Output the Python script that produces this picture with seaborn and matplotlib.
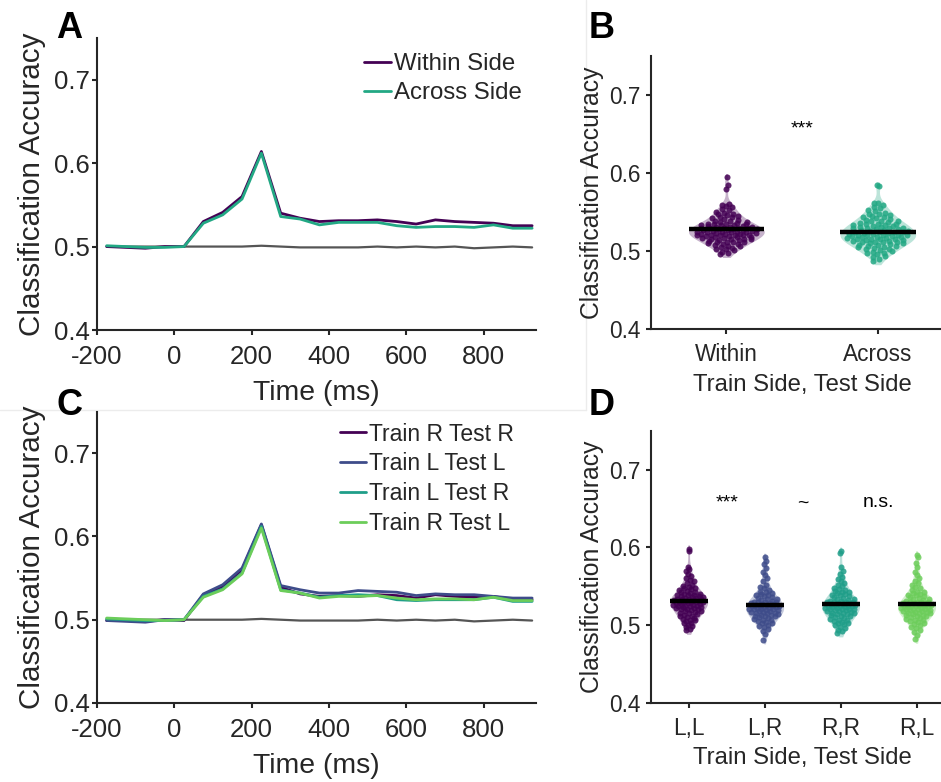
import numpy as np
import pandas as pd
import matplotlib
matplotlib.use("Agg")
import matplotlib.pyplot as plt
import seaborn as sns
from matplotlib.lines import Line2D

# ---------------- data ----------------
times = [-175, -125, -75, -25, 25, 75, 125, 175, 225, 275, 325, 375,
         425, 475, 525, 575, 625, 675, 725, 775, 825, 875, 925]

chance_a = [0.500, 0.500, 0.500, 0.500, 0.500, 0.500, 0.500, 0.500, 0.501, 0.500, 0.499, 0.499,
            0.499, 0.499, 0.500, 0.499, 0.500, 0.499, 0.500, 0.498, 0.499, 0.500, 0.499]
within_side = [0.500, 0.499, 0.498, 0.500, 0.500, 0.530, 0.541, 0.560, 0.614, 0.540, 0.534, 0.530,
               0.531, 0.531, 0.532, 0.530, 0.527, 0.532, 0.530, 0.529, 0.528, 0.525, 0.525]
across_side = [0.501, 0.500, 0.499, 0.499, 0.500, 0.528, 0.538, 0.557, 0.612, 0.536, 0.533, 0.526,
               0.529, 0.529, 0.529, 0.525, 0.523, 0.524, 0.524, 0.523, 0.526, 0.522, 0.522]

chance_c = [0.500, 0.500, 0.500, 0.500, 0.500, 0.500, 0.500, 0.500, 0.501, 0.500, 0.499, 0.499,
            0.499, 0.499, 0.500, 0.499, 0.500, 0.499, 0.500, 0.498, 0.499, 0.500, 0.499]
train_r_test_r = [0.499, 0.499, 0.498, 0.500, 0.499, 0.530, 0.540, 0.560, 0.614, 0.539, 0.531, 0.528,
                  0.529, 0.528, 0.530, 0.529, 0.526, 0.530, 0.528, 0.527, 0.528, 0.524, 0.524]
train_l_test_l = [0.499, 0.498, 0.497, 0.500, 0.500, 0.531, 0.542, 0.562, 0.615, 0.541, 0.536, 0.532,
                  0.532, 0.535, 0.534, 0.533, 0.529, 0.531, 0.530, 0.530, 0.528, 0.526, 0.526]
train_l_test_r = [0.501, 0.500, 0.499, 0.499, 0.500, 0.528, 0.537, 0.556, 0.612, 0.536, 0.532, 0.527,
                  0.529, 0.530, 0.529, 0.524, 0.523, 0.524, 0.524, 0.524, 0.527, 0.522, 0.522]
train_r_test_l = [0.502, 0.501, 0.500, 0.499, 0.500, 0.527, 0.536, 0.555, 0.610, 0.535, 0.532, 0.526,
                  0.528, 0.528, 0.529, 0.526, 0.524, 0.525, 0.525, 0.524, 0.527, 0.523, 0.523]

a_names = ["Within Side", "Across Side"]
c_names = ["Train R Test R", "Train L Test L", "Train L Test R", "Train R Test L"]

b_categories = ["Within", "Across"]
b_within = [0.496, 0.497, 0.499, 0.501, 0.502, 0.503, 0.504, 0.505, 0.506, 0.507,
            0.508, 0.509, 0.509, 0.510, 0.511, 0.511, 0.512, 0.512, 0.513, 0.514,
            0.514, 0.515, 0.515, 0.516, 0.516, 0.517, 0.517, 0.518, 0.518, 0.518,
            0.519, 0.519, 0.520, 0.520, 0.520, 0.521, 0.521, 0.521, 0.522, 0.522,
            0.522, 0.523, 0.523, 0.524, 0.524, 0.524, 0.525, 0.525, 0.525, 0.526,
            0.526, 0.527, 0.527, 0.527, 0.528, 0.528, 0.528, 0.529, 0.529, 0.530,
            0.530, 0.530, 0.531, 0.531, 0.531, 0.532, 0.532, 0.533, 0.533, 0.533,
            0.534, 0.534, 0.535, 0.535, 0.536, 0.537, 0.537, 0.538, 0.539, 0.540,
            0.541, 0.542, 0.543, 0.544, 0.545, 0.546, 0.547, 0.548, 0.549, 0.550,
            0.552, 0.554, 0.556, 0.558, 0.559, 0.560, 0.580, 0.585, 0.595]
b_across = [0.487, 0.490, 0.492, 0.494, 0.496, 0.497, 0.498, 0.499, 0.500, 0.501,
            0.502, 0.503, 0.504, 0.505, 0.505, 0.506, 0.507, 0.508, 0.508, 0.509,
            0.510, 0.510, 0.511, 0.511, 0.512, 0.512, 0.513, 0.513, 0.514, 0.514,
            0.515, 0.515, 0.516, 0.516, 0.517, 0.517, 0.518, 0.518, 0.518, 0.519,
            0.519, 0.520, 0.520, 0.520, 0.521, 0.521, 0.522, 0.522, 0.523, 0.523,
            0.524, 0.524, 0.525, 0.525, 0.526, 0.526, 0.527, 0.527, 0.528, 0.528,
            0.529, 0.529, 0.530, 0.530, 0.531, 0.531, 0.532, 0.532, 0.533, 0.533,
            0.534, 0.535, 0.535, 0.536, 0.537, 0.538, 0.538, 0.539, 0.540, 0.541,
            0.542, 0.543, 0.544, 0.545, 0.546, 0.547, 0.548, 0.549, 0.551, 0.553,
            0.555, 0.557, 0.559, 0.561, 0.562, 0.583, 0.584]

d_categories = ["L,L", "L,R", "R,R", "R,L"]
d_ll = [0.493, 0.495, 0.497, 0.499, 0.500, 0.502, 0.503, 0.505, 0.506, 0.507,
        0.508, 0.509, 0.510, 0.511, 0.512, 0.513, 0.514, 0.515, 0.516, 0.517,
        0.518, 0.518, 0.519, 0.520, 0.520, 0.521, 0.522, 0.522, 0.523, 0.523,
        0.524, 0.524, 0.525, 0.525, 0.526, 0.526, 0.527, 0.527, 0.528, 0.528,
        0.529, 0.529, 0.530, 0.530, 0.530, 0.531, 0.531, 0.532, 0.532, 0.533,
        0.533, 0.534, 0.534, 0.535, 0.535, 0.536, 0.536, 0.537, 0.537, 0.538,
        0.538, 0.539, 0.540, 0.540, 0.541, 0.542, 0.543, 0.544, 0.545, 0.546,
        0.547, 0.548, 0.549, 0.550, 0.552, 0.554, 0.556, 0.558, 0.560, 0.563,
        0.566, 0.569, 0.572, 0.575, 0.595, 0.598]
d_lr = [0.481, 0.488, 0.492, 0.495, 0.497, 0.499, 0.500, 0.502, 0.503, 0.504,
        0.505, 0.506, 0.507, 0.508, 0.509, 0.510, 0.511, 0.511, 0.512, 0.513,
        0.513, 0.514, 0.515, 0.515, 0.516, 0.517, 0.517, 0.518, 0.518, 0.519,
        0.519, 0.520, 0.520, 0.521, 0.521, 0.522, 0.522, 0.523, 0.523, 0.524,
        0.524, 0.525, 0.525, 0.526, 0.526, 0.527, 0.527, 0.528, 0.528, 0.529,
        0.529, 0.530, 0.530, 0.531, 0.532, 0.533, 0.534, 0.535, 0.536, 0.537,
        0.538, 0.539, 0.540, 0.541, 0.542, 0.543, 0.545, 0.547, 0.549, 0.552,
        0.556, 0.560, 0.564, 0.568, 0.573, 0.578, 0.582, 0.587]
d_rr = [0.490, 0.492, 0.494, 0.496, 0.498, 0.500, 0.501, 0.502, 0.503, 0.504,
        0.505, 0.506, 0.507, 0.508, 0.509, 0.510, 0.511, 0.512, 0.513, 0.514,
        0.514, 0.515, 0.516, 0.516, 0.517, 0.518, 0.518, 0.519, 0.519, 0.520,
        0.520, 0.521, 0.521, 0.522, 0.522, 0.523, 0.523, 0.524, 0.524, 0.525,
        0.525, 0.526, 0.526, 0.527, 0.527, 0.528, 0.528, 0.529, 0.529, 0.530,
        0.530, 0.531, 0.531, 0.532, 0.533, 0.534, 0.535, 0.536, 0.537, 0.538,
        0.539, 0.540, 0.541, 0.542, 0.543, 0.544, 0.545, 0.546, 0.548, 0.550,
        0.552, 0.554, 0.556, 0.559, 0.562, 0.566, 0.570, 0.575, 0.592, 0.595]
d_rl = [0.482, 0.487, 0.491, 0.494, 0.496, 0.498, 0.500, 0.501, 0.503, 0.504,
        0.505, 0.506, 0.507, 0.508, 0.509, 0.510, 0.511, 0.512, 0.513, 0.513,
        0.514, 0.515, 0.515, 0.516, 0.517, 0.517, 0.518, 0.518, 0.519, 0.519,
        0.520, 0.520, 0.521, 0.521, 0.522, 0.522, 0.523, 0.523, 0.524, 0.524,
        0.525, 0.525, 0.526, 0.526, 0.527, 0.527, 0.528, 0.528, 0.529, 0.529,
        0.530, 0.530, 0.531, 0.532, 0.533, 0.534, 0.535, 0.536, 0.537, 0.538,
        0.539, 0.540, 0.541, 0.542, 0.543, 0.545, 0.547, 0.549, 0.551, 0.554,
        0.557, 0.560, 0.564, 0.568, 0.575, 0.580, 0.587, 0.590]

b_marks = ["***"]
d_marks = ["***", "~", "n.s."]

# ---------------- style ----------------
sns.set_theme(style="ticks")
ink = "#262626"
plt.rcParams["font.family"] = ["Liberation Sans", "DejaVu Sans"]
plt.rcParams.update({
    "axes.unicode_minus": False,
    "axes.edgecolor": ink, "axes.linewidth": 1.5,
    "xtick.color": ink, "ytick.color": ink,
    "xtick.labelcolor": ink, "ytick.labelcolor": ink,
    "text.color": ink, "axes.labelcolor": ink,
    "xtick.major.width": 1.5, "ytick.major.width": 1.5,
    "xtick.major.size": 3.6, "ytick.major.size": 3.6,
})

PURPLE = "#440154"
BLUE = "#3e4c8a"
TEAL = "#1f9e89"
TEAL_A = "#22a884"
GREEN = "#6ccd5a"
GRAY = "#555555"

W, H = 941, 782
fig = plt.figure(figsize=(W / 100, H / 100), dpi=100)


def fx(px):
    return px / W


def fy(py):
    return 1 - py / H


# faint panel borders (drawn beneath everything)
fig.add_artist(Line2D([fx(586), fx(586)], [1, fy(410)], transform=fig.transFigure,
                      color="#ececec", linewidth=1, zorder=-5))
fig.add_artist(Line2D([0, fx(586)], [fy(410), fy(410)], transform=fig.transFigure,
                      color="#ececec", linewidth=1, zorder=-5))

axA = fig.add_axes([fx(97), fy(330), fx(536) - fx(97), fy(38) - fy(330)])
axC = fig.add_axes([fx(97), fy(703), fx(536) - fx(97), fy(411.5) - fy(703)])
axB = fig.add_axes([fx(650.7), fy(329), fx(953.5) - fx(650.7), fy(56) - fy(329)])
axD = fig.add_axes([fx(650.7), fy(702.7), fx(954.5) - fx(650.7), fy(430.7) - fy(702.7)])
for a in (axA, axB, axC, axD):
    a.patch.set_alpha(0)


def line_panel(ax, chance, series, names, colors, anchor, leg_fs):
    sns.lineplot(x=times, y=chance, color=GRAY, linewidth=1.6, ax=ax, label="_nolegend_")
    for vals, name, col in zip(series, names, colors):
        sns.lineplot(x=times, y=vals, color=col, linewidth=2.0, ax=ax, label=name)
    ax.set_xlim(-200, 935)
    ax.set_ylim(0.4, 0.75)
    ax.set_xticks([-200, 0, 200, 400, 600, 800])
    ax.set_xticklabels(["-200", "0", "200", "400", "600", "800"])
    ax.set_yticks([0.4, 0.5, 0.6, 0.7])
    ax.set_yticklabels(["0.4", "0.5", "0.6", "0.7"])
    sns.despine(ax=ax)
    ax.tick_params(axis="both", labelsize=18.5)
    ax.tick_params(axis="x", pad=7)
    ax.tick_params(axis="y", pad=1.5)
    ax.set_xlabel("Time (ms)", fontsize=20.4, labelpad=8)
    ax.set_ylabel("Classification Accuracy", fontsize=21.3, labelpad=6)
    ax.legend(loc="upper left", bbox_to_anchor=anchor, bbox_transform=fig.transFigure,
              frameon=False, fontsize=leg_fs, handlelength=1.12, handletextpad=0.15,
              labelspacing=0.3, borderpad=0, borderaxespad=0)


def violin_panel(ax, cats, groups, colors, marks):
    df = pd.DataFrame({
        "cond": np.repeat(cats, [len(g) for g in groups]),
        "acc": np.concatenate([np.asarray(g, dtype=float) for g in groups]),
    })
    sns.violinplot(data=df, x="cond", y="acc", hue="cond", order=cats, hue_order=cats,
                   palette=colors, legend=False, inner=None, cut=0.6, width=0.5,
                   density_norm="width", linewidth=0, saturation=1, alpha=0.3, ax=ax)
    for i, (g, col) in enumerate(zip(groups, colors)):
        y = np.sort(np.asarray(g, dtype=float))
        n = len(y)
        bw = y.std(ddof=1) * n ** -0.2

        def dens(v):
            return np.exp(-0.5 * ((v[:, None] - y[None, :]) / bw) ** 2).sum(1)

        grid = np.linspace(y.min() - 0.5 * bw, y.max() + 0.5 * bw, 300)
        frac = dens(y) / dens(grid).max()
        u = ((np.arange(n) * 0.6180339887) % 1.0) * 2 - 1
        xs = i + u * frac * 0.25 * 0.85
        ax.scatter(xs, y, s=19, color=col, alpha=0.85, linewidths=0, zorder=3)
        m = y.mean()
        ax.hlines(m, i - 0.25, i + 0.25, color="black", linewidth=3.2, zorder=4)
    ax.set_xlim(-0.5, len(cats) - 0.5)
    ax.set_ylim(0.4, 0.75)
    ax.set_yticks([0.4, 0.5, 0.6, 0.7])
    ax.set_yticklabels(["0.4", "0.5", "0.6", "0.7"])
    sns.despine(ax=ax)
    ax.tick_params(axis="both", labelsize=16.3)
    ax.tick_params(axis="x", pad=6.5)
    ax.tick_params(axis="y", pad=3.5)
    ax.set_xlabel("Train Side, Test Side", fontsize=17.2, labelpad=5.5)
    ax.set_ylabel("Classification Accuracy", fontsize=17.8, labelpad=3.6)
    for k, s in enumerate(marks):
        ax.text(k + 0.5, 0.657, s, ha="center", va="center", fontsize=14, color="black")


line_panel(axA, chance_a, [within_side, across_side], a_names, [PURPLE, TEAL_A],
           (fx(363.6), fy(53)), 17.3)
line_panel(axC, chance_c, [train_r_test_r, train_l_test_l, train_l_test_r, train_r_test_l],
           c_names, [PURPLE, BLUE, TEAL, GREEN], (fx(340), fy(422.5)), 16.5)
violin_panel(axB, b_categories, [b_within, b_across], [PURPLE, TEAL_A], b_marks)
violin_panel(axD, d_categories, [d_ll, d_lr, d_rr, d_rl], [PURPLE, BLUE, TEAL, GREEN], d_marks)

# panel letters
for letter, x, y in [("A", 56, 38), ("B", 589, 38), ("C", 56, 415), ("D", 589, 415)]:
    fig.text(fx(x), fy(y), letter, fontsize=26, fontweight="bold", color="black",
             ha="left", va="baseline")

fig.savefig("out.png", dpi=100)
